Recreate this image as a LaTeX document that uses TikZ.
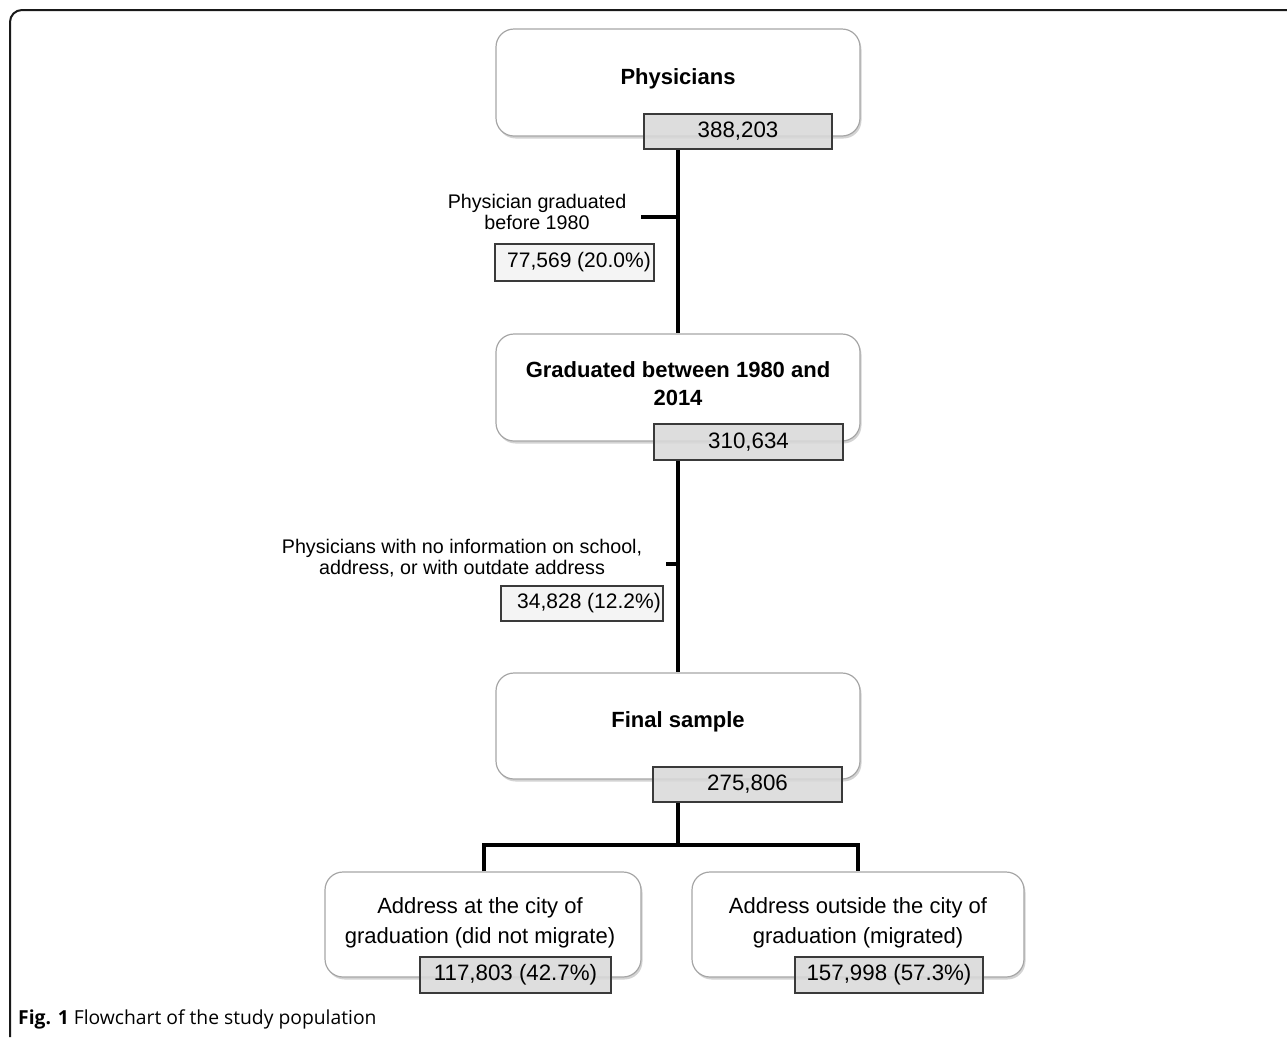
\documentclass[tikz,border=0pt]{standalone}
\usepackage{fontspec}
\setmainfont{Liberation Sans}
\newfontfamily\capfont{Open Sans}
\usetikzlibrary{shadows}
\definecolor{boxedge}{HTML}{A6A6A6}
\definecolor{numfill}{HTML}{D9D9D9}
\definecolor{numedge}{HTML}{3A3A3A}
\definecolor{lblfill}{HTML}{F4F4F4}
\tikzset{
  bigbox/.style={draw=boxedge, line width=1.2pt, fill=white, rounded corners=18pt,
    inner sep=0pt, drop shadow={opacity=0.35, shadow xshift=1.5pt, shadow yshift=-2.5pt}},
  numbox/.style={draw=numedge, line width=1.6pt, fill=numfill, fill opacity=0.88, text opacity=1,
    inner sep=0pt, font=\fontsize{22.3}{26}\selectfont},
  lblbox/.style={draw=numedge, line width=1.3pt, fill=lblfill, inner sep=0pt,
    font=\fontsize{21}{24}\selectfont},
  boldtxt/.style={font=\fontsize{22}{28}\selectfont\bfseries, align=center, inner sep=0pt},
  plaintxt/.style={font=\fontsize{22}{30}\selectfont, align=center, inner sep=0pt},
  lbltxt/.style={font=\fontsize{19.7}{20.5}\selectfont, align=center, inner sep=0pt},
  conn/.style={line width=4pt, black},
}
\begin{document}
\begin{tikzpicture}[x=1pt, y=-1pt]
\useasboundingbox (0,0) rectangle (1287,1037);
% outer frame
\draw[line width=2pt, black!90, rounded corners=12pt] (1287,10) -- (10,10) -- (10,1037);

% box 1
\node[bigbox, minimum width=364pt, minimum height=107pt] (b1) at (678,82.5) {};
\node[boldtxt] (t1) at (678,79) {Physicians};
% box 2
\node[bigbox, minimum width=364pt, minimum height=107pt] (b2) at (678,387.5) {};
\node[boldtxt] (t2) at (678,384) {Graduated between 1980 and\\2014};
% box 3
\node[bigbox, minimum width=364pt, minimum height=106pt] (b3) at (678,726) {};
\node[boldtxt] (t3) at (678,722) {Final sample};
% bottom boxes
\node[bigbox, minimum width=316pt, minimum height=105pt] (b4) at (483,924.5) {};
\node[plaintxt] (t4) at (480,923) {Address at the city of\\graduation (did not migrate)};
\node[bigbox, minimum width=332pt, minimum height=105pt] (b5) at (858,924.5) {};
\node[plaintxt] (t5) at (858,923) {Address outside the city of\\graduation (migrated)};

% connector points
\coordinate (k1) at (678,217);
\coordinate (k1e) at (641,217);
\coordinate (k2) at (678,564);
\coordinate (k2e) at (666,564);
\coordinate (sp) at (678,845);
\coordinate (spl) at (484,845);
\coordinate (spr) at (858,845);

% number boxes
\node[numbox, minimum width=188pt, minimum height=35pt] (n1) at (738,131.5) {\raisebox{-1.5pt}{388,203}};
\node[numbox, minimum width=189pt, minimum height=36pt] (n2) at (748.5,442) {\raisebox{-1.5pt}{310,634}};
\node[numbox, minimum width=189pt, minimum height=35pt] (n3) at (747.5,784.5) {\raisebox{-1.5pt}{275,806}};
\node[numbox, minimum width=191pt, minimum height=36pt] (n4) at (515.5,975) {\raisebox{-1.5pt}{117,803 (42.7\%)}};
\node[numbox, minimum width=188pt, minimum height=36pt] (n5) at (889,975) {\raisebox{-1.5pt}{157,998 (57.3\%)}};

\draw[conn] (b1.south |- n1.south) -- (b2.north);
\draw[conn] (k1) -- (k1e);
\draw[conn] (b2.south |- n2.south) -- (b3.north);
\draw[conn] (k2) -- (k2e);
\draw[conn] (b3.south |- n3.south) -- (sp);
\draw[conn] (spl |- b4.north) -- (spl) -- (spr) -- (spr |- b5.north);

% side labels
\node[lbltxt] (l1) at (537,212) {Physician graduated\\before 1980};
\node[lblbox, minimum width=159pt, minimum height=37pt] (c1) at (574.5,262.5) {\hspace*{9pt}\raisebox{-1pt}{77,569 (20.0\%)}};
\node[lbltxt] (l2) at (462,558) {Physicians with no information on school,\\address, or with outdate address};
\node[lblbox, minimum width=162pt, minimum height=35pt] (c2) at (582,603.5) {\hspace*{14pt}\raisebox{-1pt}{34,828 (12.2\%)}};

% caption
\node[anchor=west, inner sep=0pt, font=\capfont\fontsize{19.3}{22}\selectfont] (cap) at (18,1019.5)
  {\textbf{Fig. 1} Flowchart of the study population};
\end{tikzpicture}
\end{document}
